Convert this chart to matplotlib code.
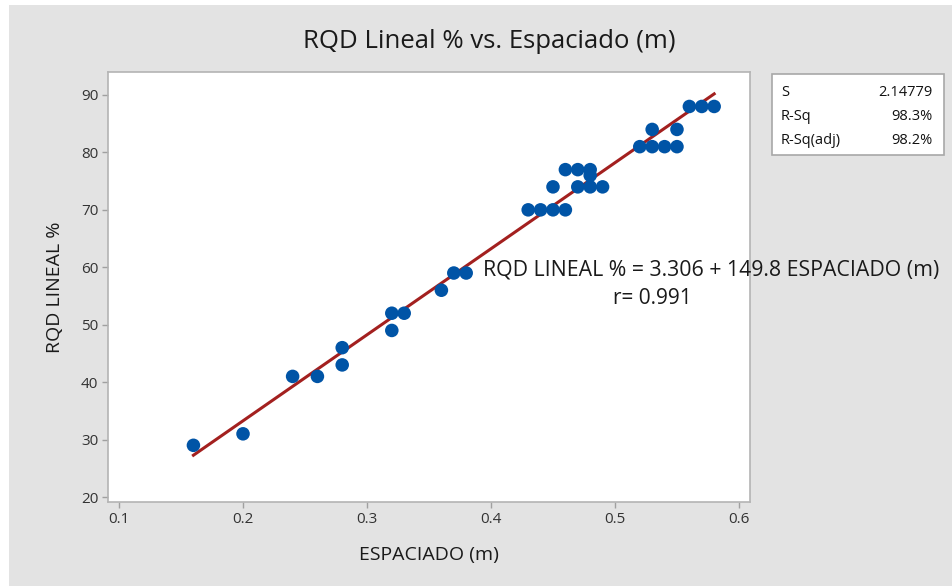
import matplotlib
matplotlib.use('Agg')
import matplotlib.pyplot as plt
from matplotlib.patches import Rectangle
import numpy as np

plt.rcParams['font.family'] = ['Open Sans', 'DejaVu Sans']

espaciado = [0.16, 0.20, 0.24, 0.26, 0.28, 0.28, 0.32, 0.32, 0.33, 0.36, 0.37, 0.38,
             0.43, 0.44, 0.45, 0.46, 0.45, 0.47, 0.48, 0.49, 0.46, 0.47, 0.48, 0.48,
             0.52, 0.53, 0.54, 0.55, 0.53, 0.55, 0.56, 0.57, 0.58]
rqd = [29, 31, 41, 41, 46, 43, 52, 49, 52, 56, 59, 59,
       70, 70, 70, 70, 74, 74, 74, 74, 77, 77, 77, 76,
       81, 81, 81, 81, 84, 84, 88, 88, 88]

intercept = 3.306
slope = 149.8
stats_labels = ['S', 'R-Sq', 'R-Sq(adj)']
stats_values = ['2.14779', '98.3%', '98.2%']

W, H = 953, 586
fig = plt.figure(figsize=(W / 100, H / 100), dpi=100, facecolor='white')

# gray panel behind everything
fig.patches.append(Rectangle((9 / W, 0), 1 - 9 / W, 1 - 5 / H, transform=fig.transFigure,
                             facecolor='#e3e3e3', edgecolor='none', zorder=-10))

ax = fig.add_axes([108 / W, (H - 502) / H, 642 / W, 430 / H])
ax.set_facecolor('white')

ax.scatter(espaciado, rqd, s=95, color='#0054a6', edgecolors='none', zorder=3)

xs = np.array([min(espaciado), max(espaciado)])
ax.plot(xs, intercept + slope * xs, color='#a3201f', linewidth=2.2, zorder=2)

ax.set_xlim(0.0911, 0.6089)
ax.set_ylim(19.13, 94.0)
ax.set_xticks([0.1, 0.2, 0.3, 0.4, 0.5, 0.6])
ax.set_xticklabels(['0.1', '0.2', '0.3', '0.4', '0.5', '0.6'])
ax.set_yticks(range(20, 100, 10))

for spine in ax.spines.values():
    spine.set_color('#b4b4b4')
    spine.set_linewidth(1.2)
ax.tick_params(axis='both', direction='out', length=4, width=1, color='#a0a0a0',
               labelsize=11, labelcolor='#333333', pad=3)

ax.set_xlabel('ESPACIADO (m)', fontsize=14, color='#1a1a1a', labelpad=14)
ax.set_ylabel('RQD LINEAL %', fontsize=14, color='#1a1a1a', labelpad=12)
fig.text(489 / W, 1 - 41 / H, 'RQD Lineal % vs. Espaciado (m)', fontsize=18.5,
         ha='center', va='center', color='#1a1a1a')

# regression equation
fig.text(483 / W, 1 - 270 / H, 'RQD LINEAL % = 3.306 + 149.8 ESPACIADO (m)',
         fontsize=15.3, ha='left', va='center', color='#1a1a1a', zorder=5)
fig.text(613 / W, 1 - 298 / H, 'r= 0.991',
         fontsize=15, ha='left', va='center', color='#1a1a1a', zorder=5)

# summary box
fig.patches.append(Rectangle((772 / W, 1 - 155 / H), 172 / W, 81 / H, transform=fig.transFigure,
                             facecolor='white', edgecolor='#a8a8a8', linewidth=1.2, zorder=1))
for i, (lab, val) in enumerate(zip(stats_labels, stats_values)):
    y = 1 - (93 + i * 24) / H
    fig.text(781 / W, y, lab, fontsize=10.5, ha='left', va='center', color='#111111', zorder=2)
    fig.text(933 / W, y, val, fontsize=10.5, ha='right', va='center', color='#111111', zorder=2)

fig.savefig('out.png', dpi=100, facecolor=fig.get_facecolor())
